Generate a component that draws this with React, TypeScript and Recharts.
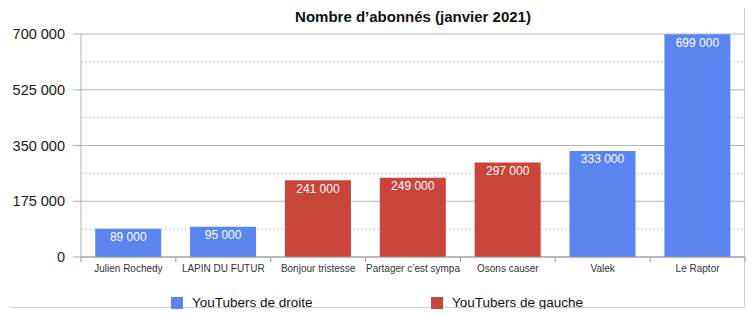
import React from "react";
import {
  Bar,
  BarChart,
  CartesianGrid,
  Cell,
  LabelList,
  XAxis,
  YAxis,
} from "recharts";

const categories = [
  "Julien Rochedy",
  "LAPIN DU FUTUR",
  "Bonjour tristesse",
  "Partager c’est sympa",
  "Osons causer",
  "Valek",
  "Le Raptor",
];
const subscribers = [89000, 95000, 241000, 249000, 297000, 333000, 699000];
const sides = ["droite", "droite", "gauche", "gauche", "gauche", "droite", "droite"];
const yTicks = [0, 175000, 350000, 525000, 700000];
const minorTicks = [87500, 262500, 437500, 612500];
const legendSides = ["droite", "gauche"];
const legendLabels = ["YouTubers de droite", "YouTubers de gauche"];

const colors: Record<string, string> = { droite: "#5a85ef", gauche: "#c9453a" };
const FONT = "'Liberation Sans', Arial, Helvetica, sans-serif";

const W = 754;
const H = 317;
const PLOT_LEFT = 81;
const PLOT_RIGHT = 745;
const PLOT_BOTTOM = 257;
const BAND = (PLOT_RIGHT - PLOT_LEFT) / categories.length;

const chartData = categories.map((name, i) => ({
  name,
  value: subscribers[i],
  side: sides[i],
}));

// espace comme séparateur de milliers
const fmt = (v: number) => String(v).replace(/\B(?=(\d{3})+(?!\d))/g, " ");

function CategoryTick(props: any) {
  const { x, payload, index } = props;
  const left = x - BAND / 2;
  return (
    <g>
      <line x1={left} x2={left} y1={PLOT_BOTTOM} y2={PLOT_BOTTOM + 5} stroke="#999" />
      {index === categories.length - 1 && (
        <line x1={left + BAND} x2={left + BAND} y1={PLOT_BOTTOM} y2={PLOT_BOTTOM + 5} stroke="#999" />
      )}
      <text
        x={x}
        y={PLOT_BOTTOM + 15}
        textAnchor="middle"
        fontSize={10}
        fill="#333"
        fontFamily={FONT}
      >
        {payload.value}
      </text>
    </g>
  );
}

export default function App() {
  return (
    <div style={{ position: "relative", width: W, height: H, margin: -8, fontFamily: FONT, background: "#fff" }}>
      <div
        style={{
          position: "absolute",
          left: 10,
          top: 7,
          width: 734,
          height: 299,
          borderTop: "1px solid #d0d0d0",
          borderRight: "1px solid #d0d0d0",
          borderBottom: "1px solid #d0d0d0",
        }}
      />
      <div
        style={{
          position: "absolute",
          left: PLOT_LEFT,
          width: PLOT_RIGHT - PLOT_LEFT,
          top: 8,
          textAlign: "center",
          fontSize: 15,
          fontWeight: "bold",
          color: "#111",
          lineHeight: "18px",
        }}
      >
        Nombre d’abonnés (janvier 2021)
      </div>
      <div style={{ position: "absolute", left: 0, top: 0 }}>
        <BarChart
          width={W}
          height={H}
          data={chartData}
          margin={{ top: 34, right: W - PLOT_RIGHT, bottom: 30, left: 11 }}
          barCategoryGap="15%"
        >
          <CartesianGrid vertical={false} stroke="#b8b8b8" />
          <CartesianGrid
            vertical={false}
            horizontalValues={minorTicks}
            stroke="#c4c4c4"
            strokeDasharray="2 2"
          />
          <XAxis
            dataKey="name"
            height={30}
            tickLine={false}
            axisLine={{ stroke: "#999" }}
            tick={<CategoryTick />}
            interval={0}
          />
          <YAxis
            width={70}
            domain={[0, 700000]}
            ticks={yTicks}
            tickFormatter={fmt}
            tickSize={8}
            tickMargin={8}
            tickLine={{ stroke: "#b0b0b0" }}
            axisLine={{ stroke: "#b0b0b0" }}
            tick={{ fontSize: 14.5, fill: "#1a1a1a", fontFamily: FONT }}
            interval={0}
          />
          <Bar dataKey="value" isAnimationActive={false}>
            {chartData.map((d) => (
              <Cell key={d.name} fill={colors[d.side]} />
            ))}
            <LabelList
              dataKey="value"
              position="insideTop"
              offset={4}
              formatter={(v: any) => fmt(Number(v))}
              fill="#fff"
              fontSize={12}
              fontFamily={FONT}
            />
          </Bar>
        </BarChart>
      </div>
      {legendLabels.map((label, i) => (
        <div
          key={label}
          style={{
            position: "absolute",
            left: i === 0 ? 171 : 431,
            top: 294,
            display: "flex",
            alignItems: "center",
            fontSize: 13.5,
            color: "#111",
            lineHeight: "17px",
          }}
        >
          <span
            style={{
              display: "inline-block",
              width: 12,
              height: 12,
              background: colors[legendSides[i]],
              marginRight: 9,
            }}
          />
          {label}
        </div>
      ))}
    </div>
  );
}
